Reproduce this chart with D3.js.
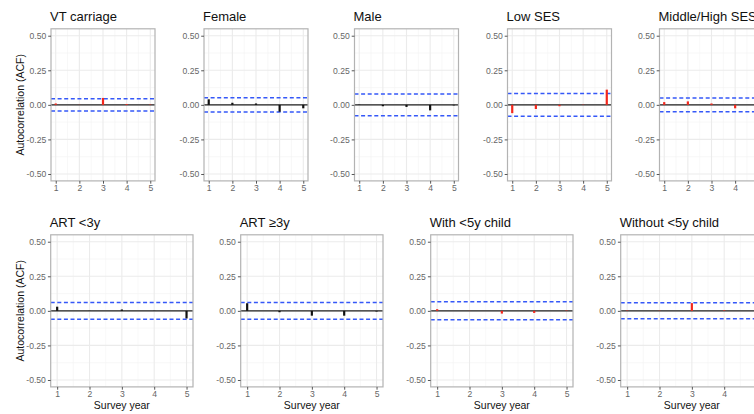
<!DOCTYPE html>
<html lang="en">
<head>
<meta charset="UTF-8">
<script src="https://d3js.org/d3.v7.min.js"></script>
<style>
    body { margin: 0; background: white; }
    svg { display: block; font-family: "Liberation Sans", Arial, sans-serif; }
</style>
</head>
<body>
<div id="chart"></div>
<script>
    // data
    var lags = [1, 2, 3, 4, 5];
    var yTicks = [-0.5, -0.25, 0, 0.25, 0.5];
    var yMinor = [-0.375, -0.125, 0.125, 0.375];
    var xMinor = [1.5, 2.5, 3.5, 4.5];

    var topTitles = ["VT carriage", "Female", "Male", "Low SES", "Middle/High SES"];
    var bottomTitles = ["ART <3y", "ART \u22653y", "With <5y child", "Without <5y child"];

    var acfVtCarriage = [0.01, 0.001, 0.05, 0.006, 0.003];
    var acfFemale = [0.04, 0.015, 0.01, -0.05, -0.025];
    var acfMale = [0.002, -0.01, -0.015, -0.04, -0.004];
    var acfLowSes = [-0.06, -0.03, -0.01, 0.002, 0.11];
    var acfMidHighSes = [0.02, 0.025, 0.01, -0.025, 0.005];
    var acfArtLt3 = [0.03, 0.001, 0.01, 0.001, -0.055];
    var acfArtGe3 = [0.055, -0.01, -0.035, -0.035, -0.005];
    var acfWithChild = [0.012, 0.001, -0.02, -0.015, 0.003];
    var acfWithoutChild = [0.003, 0.002, 0.056, 0.004, 0.003];

    var topCi = [0.045, 0.052, 0.078, 0.082, 0.05];
    var bottomCi = [0.06, 0.06, 0.065, 0.058];
    var topColors = ["red", "black", "black", "red", "red"];
    var bottomColors = ["black", "black", "red", "red"];

    var topAcf = [acfVtCarriage, acfFemale, acfMale, acfLowSes, acfMidHighSes];
    var bottomAcf = [acfArtLt3, acfArtGe3, acfWithChild, acfWithoutChild];

    var W = 754, H = 414;
    var svg = d3.select("#chart").append("svg")
        .attr("width", W)
        .attr("height", H);

    function drawPanel(left, top, width, height, title, values, ci, color, opts) {
        var x = d3.scaleLinear().domain([0.8, 5.2]).range([0, width]);
        var y = d3.scaleLinear().domain([-0.55, 0.55]).range([height, 0]);
        var g = svg.append("g").attr("transform", "translate(" + left + "," + top + ")");

        // minor grid
        g.selectAll(".ymin").data(yMinor).enter().append("line")
            .attr("x1", 0).attr("x2", width)
            .attr("y1", d => y(d)).attr("y2", d => y(d))
            .attr("stroke", "#f4f4f4").attr("stroke-width", 0.6);
        g.selectAll(".xmin").data(xMinor).enter().append("line")
            .attr("y1", 0).attr("y2", height)
            .attr("x1", d => x(d)).attr("x2", d => x(d))
            .attr("stroke", "#f4f4f4").attr("stroke-width", 0.6);
        // major grid
        g.selectAll(".ymaj").data(yTicks).enter().append("line")
            .attr("x1", 0).attr("x2", width)
            .attr("y1", d => y(d)).attr("y2", d => y(d))
            .attr("stroke", "#ebebeb").attr("stroke-width", 1.1);
        g.selectAll(".xmaj").data(lags).enter().append("line")
            .attr("y1", 0).attr("y2", height)
            .attr("x1", d => x(d)).attr("x2", d => x(d))
            .attr("stroke", "#ebebeb").attr("stroke-width", 1.1);

        // zero line
        g.append("line")
            .attr("x1", 0).attr("x2", width)
            .attr("y1", y(0)).attr("y2", y(0))
            .attr("stroke", "#222").attr("stroke-width", 1.1);

        // confidence bounds
        [ci, -ci].forEach(function (c) {
            g.append("line")
                .attr("x1", 0).attr("x2", width)
                .attr("y1", y(c)).attr("y2", y(c))
                .attr("stroke", "#3558f8").attr("stroke-width", 1.5)
                .attr("stroke-dasharray", "4,2.6");
        });

        // acf segments
        g.selectAll(".seg").data(values).enter().append("line")
            .attr("x1", (d, i) => x(lags[i])).attr("x2", (d, i) => x(lags[i]))
            .attr("y1", y(0)).attr("y2", d => y(d))
            .attr("stroke", color === "red" ? "#f3271c" : "#111")
            .attr("stroke-width", 2.2);

        // border
        g.append("rect")
            .attr("x", 0).attr("y", 0).attr("width", width).attr("height", height)
            .attr("fill", "none").attr("stroke", "#b3b3b3").attr("stroke-width", 1.2);

        // axes
        var yAxis = g.append("g").call(d3.axisLeft(y).tickValues(yTicks)
            .tickFormat(d3.format(".2f")).tickSize(2.8).tickPadding(2));
        var xAxis = g.append("g").attr("transform", "translate(0," + height + ")")
            .call(d3.axisBottom(x).tickValues(lags).tickFormat(d3.format("d")).tickSize(2.8).tickPadding(1.5));
        [yAxis, xAxis].forEach(function (a) {
            a.select(".domain").remove();
            a.selectAll(".tick line").attr("stroke", "#555");
            a.selectAll("text").attr("fill", "#666").style("font-size", "8.6px")
                .style("font-family", "Liberation Sans, Arial, sans-serif");
        });
        yAxis.selectAll("text").text(d => d.toFixed(2));

        // title
        g.append("text")
            .attr("x", -1).attr("y", -8)
            .attr("fill", "#111").style("font-size", "13px")
            .text(title);

        if (opts.yLabel) {
            g.append("text")
                .attr("transform", "rotate(-90)")
                .attr("x", -height / 2).attr("y", -27)
                .attr("text-anchor", "middle")
                .attr("fill", "#111").style("font-size", "10.5px")
                .text("Autocorrelation (ACF)");
        }
        if (opts.xLabel) {
            g.append("text")
                .attr("x", width / 2).attr("y", height + 22)
                .attr("text-anchor", "middle")
                .attr("fill", "#111").style("font-size", "10.5px")
                .text("Survey year");
        }
    }

    var topLefts = [51, 204, 354.5, 507.5, 659.5];
    var bottomLefts = [50.7, 240.7, 430.7, 620.7];

    topTitles.forEach(function (t, i) {
        drawPanel(topLefts[i], 28.8, 104, 152.1, t, topAcf[i], topCi[i], topColors[i],
            {yLabel: i === 0, xLabel: false});
    });
    bottomTitles.forEach(function (t, i) {
        drawPanel(bottomLefts[i], 234.8, 142.3, 152.1, t, bottomAcf[i], bottomCi[i], bottomColors[i],
            {yLabel: i === 0, xLabel: true});
    });
</script>
</body>
</html>
